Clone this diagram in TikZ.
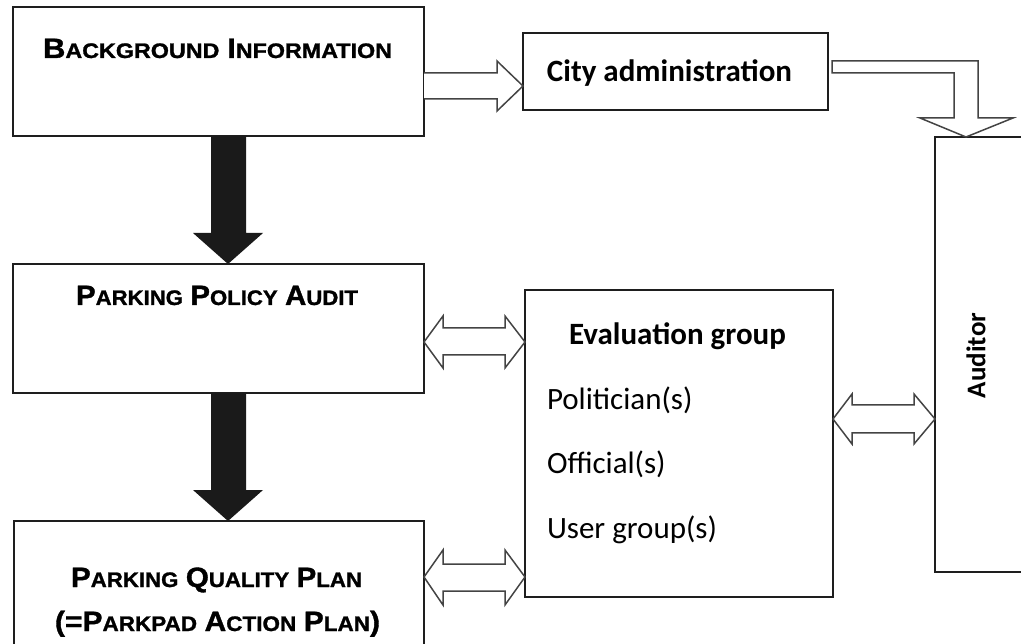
\documentclass[tikz,border=0pt]{standalone}
\usepackage{fontspec}
\usepackage{graphicx}
\setmainfont{Carlito}
\newfontfamily\ttlfamily[BoldFeatures={FakeBold=1.2}]{Liberation Sans}
\definecolor{boxc}{HTML}{1E1E1E}
\definecolor{arrc}{HTML}{444444}
\definecolor{solidc}{HTML}{1A1A1A}
\newcommand\SCap[2]{{\fontsize{28}{30}\selectfont #1}{\fontsize{21}{23}\selectfont #2}}
\newcommand\wsp{\hspace{7pt}}
\newcommand\fitto[2]{\resizebox{#1}{\height}{\ttlfamily\bfseries #2}}
\tikzset{
  box/.style={draw=boxc, line width=1.4pt, fill=white, inner sep=0pt, outer sep=0pt, anchor=north west},
  hollow/.style={draw=arrc, line width=1.5pt, fill=white, line join=miter},
  solidarr/.style={fill=solidc, draw=none},
  ttl/.style={anchor=base, inner sep=0pt, outer sep=0pt},
  lbl/.style={inner sep=0pt, outer sep=0pt, font=\fontsize{31}{34}\selectfont},
}
\begin{document}
\begin{tikzpicture}[x=1pt,y=-1pt]
\useasboundingbox (0,0) rectangle (1021,644);
\clip (0,0) rectangle (1021,644);
% boxes
\node[box, minimum width=411pt, minimum height=129pt] (bg) at (13,7) {};
\node[box, minimum width=305pt, minimum height=77pt] (ca) at (523,33) {};
\node[box, minimum width=411pt, minimum height=129pt] (pa) at (13,264) {};
\node[box, minimum width=410pt, minimum height=160pt] (pl) at (14,521) {};
\node[box, minimum width=308pt, minimum height=307pt] (eg) at (525,290) {};
\node[box, minimum width=120pt, minimum height=435pt] (au) at (935,137) {};
% titles
\node[ttl] (tbg) at (217.5,58) {\fitto{349pt}{\SCap{B}{ACKGROUND}\wsp\SCap{I}{NFORMATION}}};
\node[ttl] (tpa) at (217,305) {\fitto{282pt}{\SCap{P}{ARKING}\wsp\SCap{P}{OLICY}\wsp\SCap{A}{UDIT}}};
\node[ttl] (tpl1) at (216.5,587) {\fitto{291pt}{\SCap{P}{ARKING}\wsp\SCap{Q}{UALITY}\wsp\SCap{P}{LAN}}};
\node[ttl] (tpl2) at (217.5,631) {\fitto{325pt}{\SCap{(=P}{ARKPAD}\wsp\SCap{A}{CTION}\wsp\SCap{P}{LAN}\SCap{)}{}}};
% labels
\node[lbl, anchor=base] (tca) at (669.5,82) {\bfseries City administration};
\node[lbl, anchor=base] (teg) at (677.5,345) {\bfseries Evaluation group};
\node[lbl, anchor=base west] (tpo) at (547,410) {Politician(s)};
\node[lbl, anchor=base west] (tof) at (547,473) {Official(s)};
\node[lbl, anchor=base west] (tug) at (547,538) {User group(s)};
\node[inner sep=0pt, rotate=90, font=\fontsize{27}{30}\selectfont\bfseries] (tau) at (976,355.5) {Auditor};
% hollow right arrow
\draw[hollow] (bg.east |- 0,73) -- (497,73) -- (497,61) -- (ca.west |- 0,86) -- (497,111) -- (497,99) -- (bg.east |- 0,99);
% bent arrow
\draw[hollow] (832,73) -- (832,61) -- (978,61) -- (978,118) -- (1013,118) -- (966,0 |- au.north) -- (920,118) -- (954,118) -- (954,73) -- cycle;
% black arrows
\fill[solidarr] (211,0 |- bg.south) -- (211,233) -- (193,233) -- (228,0 |- pa.north) -- (263,233) -- (246,233) -- (246,0 |- bg.south) -- cycle;
\fill[solidarr] (211,0 |- pa.south) -- (211,490) -- (193,490) -- (228,0 |- pl.north) -- (263,490) -- (246,490) -- (246,0 |- pa.south) -- cycle;
% double arrows
\draw[hollow] (pa.east |- 0,342) -- (443,316) -- (443,328) -- (505,328) -- (505,316) -- (eg.west |- 0,342) -- (505,368) -- (505,355) -- (443,355) -- (443,368) -- cycle;
\draw[hollow] (pl.east |- 0,577) -- (443,550) -- (443,564) -- (505,564) -- (505,550) -- (eg.west |- 0,577) -- (505,605) -- (505,591) -- (443,591) -- (443,605) -- cycle;
\draw[hollow] (eg.east |- 0,419) -- (852,394) -- (852,405) -- (914,405) -- (914,394) -- (au.west |- 0,419) -- (914,444) -- (914,433) -- (852,433) -- (852,444) -- cycle;
\end{tikzpicture}
\end{document}
